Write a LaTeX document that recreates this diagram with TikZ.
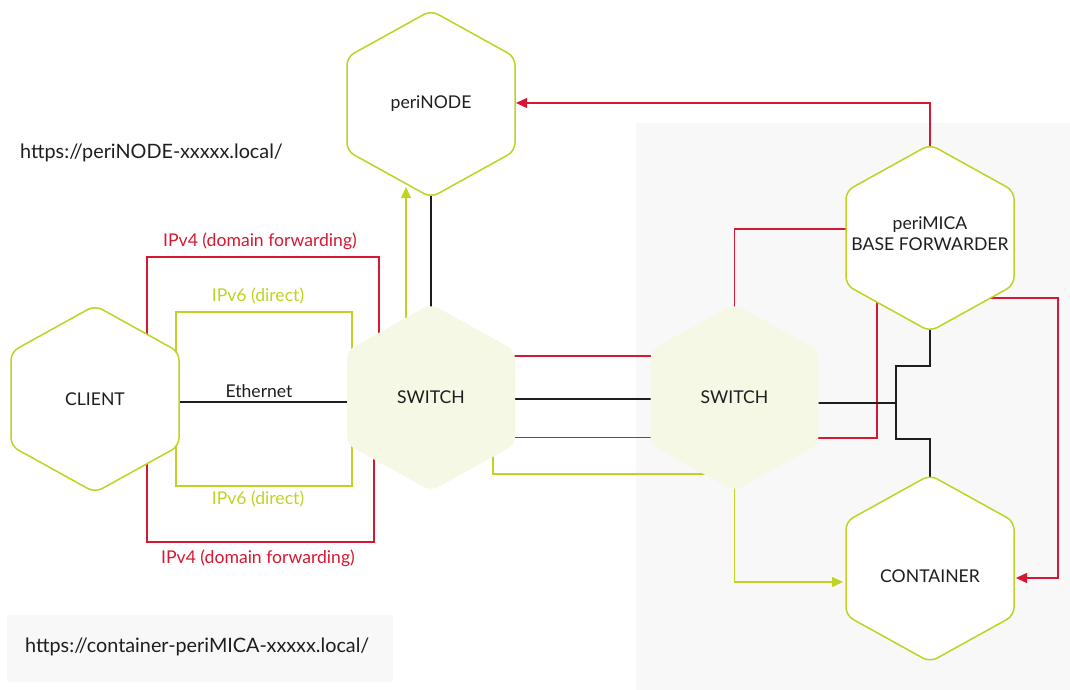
\documentclass[tikz,border=0pt]{standalone}
\usepackage{fontspec}
\setmainfont{Lato}
\usetikzlibrary{arrows.meta}
\definecolor{lime}{RGB}{192,210,34}
\definecolor{crim}{RGB}{214,24,50}
\definecolor{swfill}{RGB}{244,248,229}
\definecolor{panel}{RGB}{248,248,248}
\definecolor{ink}{RGB}{30,30,30}
\pgfdeclarelayer{back}
\pgfdeclarelayer{wires}
\pgfdeclarelayer{hexes}
\pgfsetlayers{back,wires,hexes,main}
\newcommand{\hexdraw}[2]{%
  \path[#2] ([shift={(0,-93.5)}]#1) -- ([shift={(84,-47)}]#1) -- ([shift={(84,47)}]#1)
    -- ([shift={(0,93.5)}]#1) -- ([shift={(-84,47)}]#1) -- ([shift={(-84,-47)}]#1) -- cycle;}
\tikzset{
  hexout/.style={draw=lime, line width=1.5pt, fill=white, rounded corners=8pt},
  hexsw/.style={fill=swfill, rounded corners=8pt},
  lbl/.style={text=ink, font=\fontsize{17.6}{21}\selectfont, align=center, inner sep=0pt},
  urltext/.style={text=ink, font=\fontsize{19.8}{24}\selectfont, anchor=west, inner sep=0pt},
  redw/.style={draw=crim, line width=1.4pt},
  limew/.style={draw=lime, line width=1.4pt},
  blackw/.style={draw=ink, line width=1.3pt},
  tip/.style={-{Triangle[length=11pt,width=10pt]}},
}
\begin{document}
\begin{tikzpicture}[x=1pt,y=-1pt]
\useasboundingbox (0,0) rectangle (1070,690);
% nodes (text)
\node[lbl] (pn) at (431,104) {periNODE};
\node[lbl] (cli) at (95,399) {CLIENT};
\node[lbl] (sw1) at (431,397.5) {SWITCH};
\node[lbl] (sw2) at (734.5,397.5) {SWITCH};
\node[lbl] (pm) at (930,238) {};
\node[lbl] (pmt) at (930,233.5) {periMICA\\BASE FORWARDER};
\node[lbl] (ct) at (930,568.5) {};
\node[lbl] (ctt) at (930,576) {CONTAINER};
\node[urltext] (url1) at (20,153) {https://periNODE-xxxxx.local/};
\node[urltext] (url2) at (25,647) {https://container-periMICA-xxxxx.local/};
\node[lbl, text=crim] (l4a) at (260,241) {IPv4 (domain forwarding)};
\node[lbl, text=lime] (l6a) at (258,296) {IPv6 (direct)};
\node[lbl] (leth) at (259,391) {Ethernet};
\node[lbl, text=lime] (l6b) at (258,499) {IPv6 (direct)};
\node[lbl, text=crim] (l4b) at (258,558) {IPv4 (domain forwarding)};
% backgrounds
\begin{pgfonlayer}{back}
\fill[panel] (636,123) rectangle (1070,690);
\fill[panel] (7,615) rectangle (393,682);
\end{pgfonlayer}
% hexagons
\begin{pgfonlayer}{hexes}
\hexdraw{pn.center}{hexout}
\hexdraw{cli.center}{hexout}
\hexdraw{sw1.center}{hexsw}
\hexdraw{sw2.center}{hexsw}
\hexdraw{pm.center}{hexout}
\hexdraw{ct.center}{hexout}
\end{pgfonlayer}
% connectors
\begin{pgfonlayer}{wires}
\draw[redw] ([shift={(52,0)}]cli.center) |- (379,257) -- ([shift={(-52,0)}]sw1.center);
\draw[redw] ([shift={(52,0)}]cli.center) |- (374,542) -- ([shift={(-57,0)}]sw1.center);
\draw[limew] ([shift={(81,0)}]cli.center) |- (352,312) -- ([shift={(-79,0)}]sw1.center);
\draw[limew] ([shift={(81,0)}]cli.center) |- (352,486) -- ([shift={(-79,0)}]sw1.center);
\draw[blackw] ([shift={(0,3)}]cli.center) -- ([shift={(0,4.5)}]sw1.center);
\draw[blackw] (pn.center) -- (sw1.center);
\draw[limew, tip] ([shift={(-25,0)}]sw1.center) -- ([shift={(-25,83)}]pn.center);
\draw[redw, tip] (pm.center) |- ([shift={(85,-1)}]pn.center);
\draw[redw] ([shift={(0,-41.5)}]sw1.center) -- ([shift={(0,-41.5)}]sw2.center);
\draw[blackw] ([shift={(0,1.5)}]sw1.center) -- ([shift={(0,1.5)}]sw2.center);
\draw[redw] ([shift={(0,40)}]sw1.center) -- ([shift={(0,40)}]sw2.center);
\draw[redw] (sw2.center) |- ([shift={(0,-9)}]pm.center);
\draw[redw] ([shift={(0,40.5)}]sw2.center) -| ([shift={(-53,0)}]pm.center);
\draw[redw, tip] ([shift={(0,60)}]pm.center) -| (1058,578) -- ([shift={(86,9.5)}]ct.center);
\draw[limew] ([shift={(62,0)}]sw1.center) |- ([shift={(0,76.5)}]sw2.center);
\draw[limew, tip] (sw2.center) |- ([shift={(-87,13.5)}]ct.center);
\draw[blackw] ([shift={(0,5.5)}]sw2.center) -- (896,403);
\draw[blackw] (pm.center) |- (896,366) -- (896,439) -| (ct.center);
\end{pgfonlayer}
\end{tikzpicture}
\end{document}
